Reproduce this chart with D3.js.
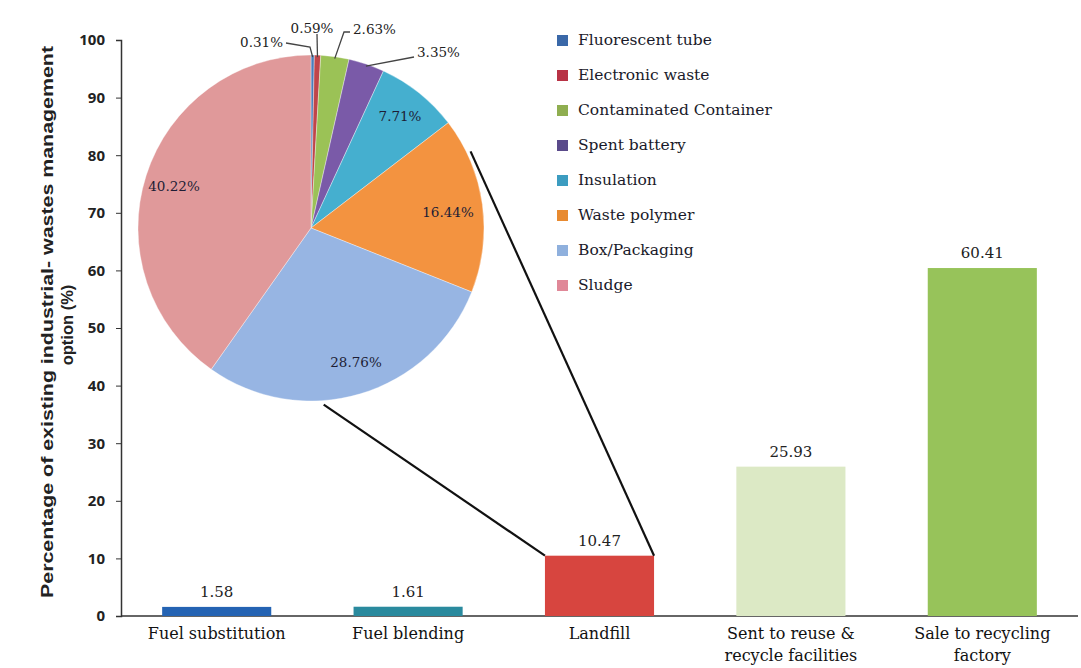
<!DOCTYPE html>
<html><head><meta charset="utf-8">
<script src="https://cdn.jsdelivr.net/npm/d3@7"></script>
<style>body{margin:0;background:#fff}</style>
</head><body>
<svg id="c" width="1081" height="668"></svg>
<script>
const categories = ["Fuel substitution","Fuel blending","Landfill","Sent to reuse & recycle facilities","Sale to recycling factory"];
const categoryLines = [["Fuel substitution"],["Fuel blending"],["Landfill"],["Sent to reuse &","recycle facilities"],["Sale to recycling","factory"]];
const barValues = [1.58,1.61,10.47,25.93,60.41];
const barColors = ["#2463b3","#2a8a9e","#d7453f","#dce9c5","#97c35a"];
const yTicks = [0,10,20,30,40,50,60,70,80,90,100];

const pieNames = ["Fluorescent tube","Electronic waste","Contaminated Container","Spent battery","Insulation","Waste polymer","Box/Packaging","Sludge"];
const pieValues = [0.31,0.59,2.63,3.35,7.71,16.44,28.76,40.22];
const pieColors = ["#4a7ebb","#c0454a","#9bc256","#7a5aa8","#45afcf","#f39340","#97b5e3","#e0999a"];
const legendColors = ["#3a68a8","#b83245","#8fae50","#5a4a8a","#3c9cc0","#e88a30","#8fb0dd","#e08898"];

const SERIF = "'DejaVu Serif',serif";
const svg = d3.select("#c");
svg.append("rect").attr("width",1081).attr("height",668).attr("fill","#fff");

const x = d3.scaleBand().domain(categories).range([121,1078]).paddingInner(0.43).paddingOuter(0.215);
const y = d3.scaleLinear().domain([0,100]).range([616,40]);

// y axis
const ya = svg.append("g").attr("transform","translate(121,0)")
  .call(d3.axisLeft(y).tickValues(yTicks).tickSize(5).tickPadding(11));
ya.select(".domain").attr("stroke","#333").attr("stroke-width",1.5);
ya.selectAll(".tick line").attr("stroke","#333");
ya.selectAll("text").attr("font-family","'Open Sans',sans-serif").attr("font-weight","bold").attr("font-size",15).attr("fill","#222");

// x axis line
svg.append("line").attr("x1",121).attr("x2",1078).attr("y1",y(0)).attr("y2",y(0)).attr("stroke","#333").attr("stroke-width",1.5);

// bars
svg.selectAll("rect.bar").data(barValues).join("rect").attr("class","bar")
  .attr("x",(d,i)=>x(categories[i])).attr("width",x.bandwidth())
  .attr("y",d=>y(d)).attr("height",d=>y(0)-y(d)).attr("fill",(d,i)=>barColors[i]);

svg.selectAll("text.val").data(barValues).join("text").attr("class","val")
  .attr("x",(d,i)=>x(categories[i])+x.bandwidth()/2).attr("y",d=>y(d)-10)
  .attr("text-anchor","middle").attr("font-family",SERIF).attr("font-size",15).attr("fill","#222")
  .text(d=>d.toFixed(2));

// x labels
categoryLines.forEach((lines,i)=>{
  const t = svg.append("text").attr("text-anchor","middle").attr("font-family",SERIF).attr("font-size",16).attr("fill","#111");
  lines.forEach((l,j)=>t.append("tspan").attr("x",x(categories[i])+x.bandwidth()/2).attr("y",639+j*22).text(l));
});

// y title
svg.append("text").attr("transform","translate(53,322) rotate(-90)").attr("text-anchor","middle")
  .attr("font-family","'Liberation Sans',sans-serif").attr("font-weight","bold").attr("font-size",16.5).attr("fill","#222")
  .attr("textLength",552).attr("lengthAdjust","spacingAndGlyphs")
  .text("Percentage  of existing industrial- wastes management");
svg.append("text").attr("transform","translate(73,325) rotate(-90)").attr("text-anchor","middle")
  .attr("font-family","'Liberation Sans',sans-serif").attr("font-weight","bold").attr("font-size",16.5).attr("fill","#222")
  .text("option (%)");

// pie
const cx = 311, cy = 228, R = 173;
const pie = d3.pie().sort(null).value(d=>d)(pieValues);
const arc = d3.arc().innerRadius(0).outerRadius(R);
const pg = svg.append("g").attr("transform",`translate(${cx},${cy})`);
pg.selectAll("path").data(pie).join("path").attr("d",arc)
  .attr("fill",(d,i)=>pieColors[i]).attr("stroke","#fff").attr("stroke-width",0.6).attr("stroke-opacity",0.6);

// inside labels
const insidePos = {4:[89,-112],5:[137,-16],6:[45,134],7:[-137,-42]};
Object.keys(insidePos).forEach(k=>{
  const [dx,dy] = insidePos[k];
  pg.append("text").attr("x",dx).attr("y",dy).attr("text-anchor","middle").attr("dominant-baseline","central")
    .attr("font-family",SERIF).attr("font-size",13.5).attr("fill","#1d1d35")
    .text(pieValues[k].toFixed(2)+"%");
});

// outside labels with leaders
function edge(i,frac,r){ const a = pie[i].startAngle + (pie[i].endAngle-pie[i].startAngle)*frac; return [Math.sin(a)*r, -Math.cos(a)*r]; }
const outside = [
  {i:0, text:[-28,-186], anchor:"end", pts:[[-25,-185],[-1,-181]]},
  {i:1, text:[1,-200], anchor:"middle", pts:[[6,-194]]},
  {i:2, text:[42,-199], anchor:"start", pts:[[39,-196],[33,-196]]},
  {i:3, text:[106,-176], anchor:"start", pts:[[103,-171]]}
];
outside.forEach(o=>{
  const e = edge(o.i,0.5,R-2);
  const p = [...o.pts, e];
  pg.append("path").attr("d",d3.line()(p)).attr("fill","none").attr("stroke","#444").attr("stroke-width",1.3);
  pg.append("text").attr("x",o.text[0]).attr("y",o.text[1]).attr("text-anchor",o.anchor).attr("dominant-baseline","central")
    .attr("font-family",SERIF).attr("font-size",13.5).attr("fill","#222")
    .text(pieValues[o.i].toFixed(2)+"%");
});

// connectors from pie to landfill bar
const a1 = pie[5].startAngle + (pie[5].endAngle-pie[5].startAngle)*0.2;
const a2 = pie[6].startAngle + (pie[6].endAngle-pie[6].startAngle)*0.62;
const lx = x("Landfill"), ly = y(barValues[2]);
svg.append("line").attr("x1",cx+Math.sin(a1)*(R+4)).attr("y1",cy-Math.cos(a1)*(R+4)).attr("x2",lx+x.bandwidth()).attr("y2",ly).attr("stroke","#111").attr("stroke-width",2.2);
svg.append("line").attr("x1",cx+Math.sin(a2)*(R+4)).attr("y1",cy-Math.cos(a2)*(R+4)).attr("x2",lx).attr("y2",ly).attr("stroke","#111").attr("stroke-width",2.2);

// legend
const lg = svg.append("g").attr("transform","translate(557,40)");
pieNames.forEach((n,i)=>{
  lg.append("rect").attr("x",0).attr("y",i*35-5).attr("width",11).attr("height",11).attr("fill",legendColors[i]);
  lg.append("text").attr("x",21).attr("y",i*35).attr("dominant-baseline","central")
    .attr("font-family",SERIF).attr("font-size",15.5).attr("fill","#1a1a2a").text(n);
});
</script>
</body></html>
